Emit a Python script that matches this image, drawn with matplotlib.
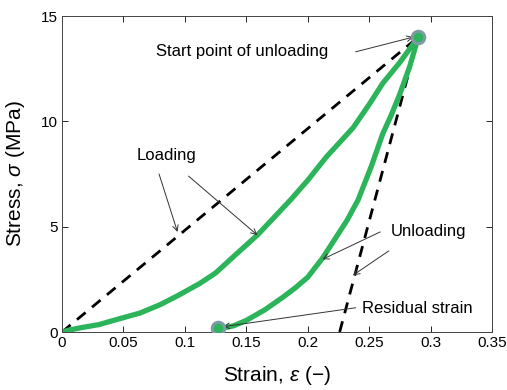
import matplotlib
matplotlib.use("Agg")
import matplotlib.pyplot as plt

plt.rcParams['font.family'] = ['Liberation Sans', 'DejaVu Sans']
plt.rcParams['mathtext.fontset'] = 'custom'
plt.rcParams['mathtext.it'] = 'Liberation Sans:italic'
plt.rcParams['mathtext.rm'] = 'Liberation Sans'

# loading / unloading curves
load_x = [0.0, 0.005, 0.015, 0.03, 0.045, 0.0635, 0.08, 0.095, 0.112, 0.125, 0.14,
          0.159, 0.172, 0.186, 0.2, 0.215, 0.237, 0.25, 0.261, 0.275, 0.29]
load_y = [0.0, 0.08, 0.2, 0.35, 0.6, 0.9, 1.3, 1.75, 2.3, 2.8, 3.6,
          4.6, 5.4, 6.27, 7.2, 8.3, 9.7, 10.8, 11.8, 12.8, 14.0]
unload_x = [0.29, 0.283, 0.275, 0.268, 0.261, 0.252, 0.241, 0.232, 0.222, 0.212,
            0.2, 0.19, 0.18, 0.165, 0.15, 0.14, 0.134]
unload_y = [14.0, 12.6, 11.3, 10.3, 9.4, 7.9, 6.27, 5.3, 4.4, 3.5,
            2.6, 2.1, 1.66, 1.05, 0.55, 0.3, 0.22]
secant_x = [0.0, 0.29]
secant_y = [0.0, 14.0]
elastic_x = [0.226, 0.29]
elastic_y = [0.0, 14.0]
peak = (0.29, 14.0)
residual = (0.127, 0.2)

fig = plt.figure(figsize=(5.07, 3.9), dpi=100)
ax = fig.add_axes([62/507, 58/390, 430/507, 316/390])

green = '#2cb45a'
ax.plot(secant_x, secant_y, 'k--', lw=2, dashes=(4, 3))
ax.plot(elastic_x, elastic_y, 'k--', lw=2, dashes=(4, 3))
ax.plot(load_x, load_y, color=green, lw=3.8, solid_capstyle='round', solid_joinstyle='round')
ax.plot(unload_x, unload_y, color=green, lw=3.8, solid_capstyle='round', solid_joinstyle='round')
for p in (peak, residual):
    ax.plot(*p, 'o', ms=9, mfc=green, mec='#7f9aa5', mew=2.2, zorder=5)

ax.set_xlim(0, 0.35)
ax.set_ylim(0, 15)
ax.set_xticks([0, 0.05, 0.1, 0.15, 0.2, 0.25, 0.3, 0.35])
ax.set_xticklabels(['0', '0.05', '0.1', '0.15', '0.2', '0.25', '0.3', '0.35'])
ax.set_yticks([0, 5, 10, 15])
ax.tick_params(direction='in', top=True, right=True, labelsize=11, length=4, width=0.6, pad=3)
for s in ax.spines.values():
    s.set_linewidth(0.7)
    s.set_color('#444444')

ax.set_xlabel(r'Strain, $\varepsilon$ ($-$)', fontsize=15, labelpad=10)
ax.set_ylabel(r'Stress, $\sigma$ (MPa)', fontsize=15, labelpad=10)

arr = dict(arrowstyle='->', color='#333333', lw=0.7, shrinkA=0, shrinkB=0)
ax.text(0.1465, 13.3, 'Start point of unloading', fontsize=12, ha='center', va='center')
ax.annotate('', xy=(0.286, 14.0), xytext=(0.239, 13.3), arrowprops=arr)

ax.text(0.085, 8.4, 'Loading', fontsize=12, ha='center', va='center')
ax.annotate('', xy=(0.094, 4.75), xytext=(0.079, 7.5), arrowprops=arr)
ax.annotate('', xy=(0.159, 4.6), xytext=(0.103, 7.4), arrowprops=arr)

ax.text(0.298, 4.75, 'Unloading', fontsize=12, ha='center', va='center')
ax.annotate('', xy=(0.212, 3.45), xytext=(0.259, 4.75), arrowprops=arr)
ax.annotate('', xy=(0.237, 2.7), xytext=(0.266, 3.85), arrowprops=arr)

ax.text(0.289, 1.1, 'Residual strain', fontsize=12, ha='center', va='center')
ax.annotate('', xy=(0.131, 0.25), xytext=(0.239, 1.15), arrowprops=arr)

fig.savefig('out.png', dpi=100)
